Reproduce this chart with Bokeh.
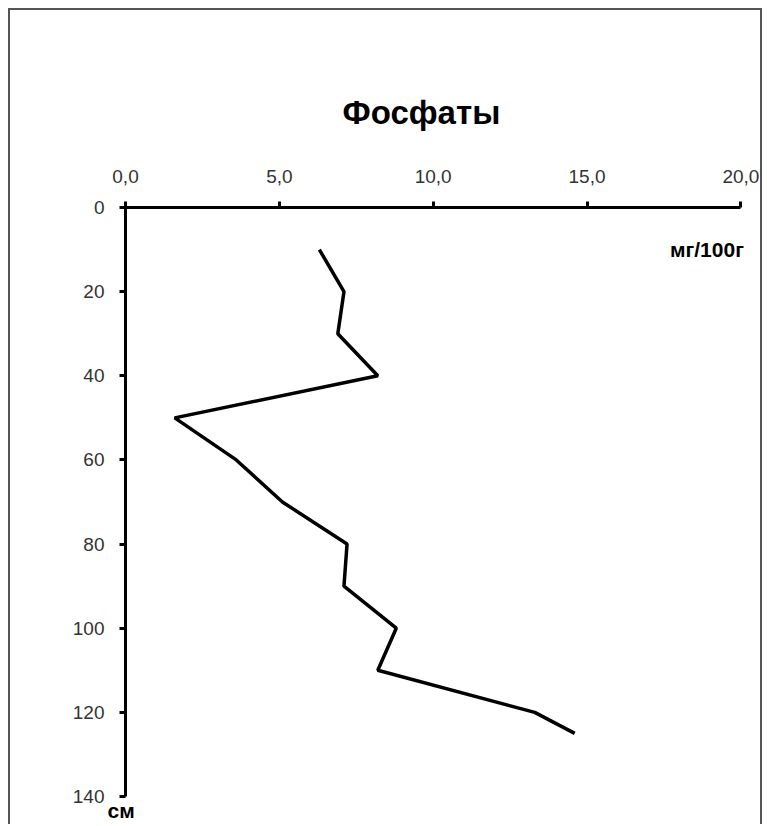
from bokeh.plotting import figure
from bokeh.models import Range1d, FixedTicker, Label, Title
from bokeh.embed import file_html
from bokeh.resources import INLINE

# data
depth_cm = [10, 20, 30, 40, 50, 60, 70, 80, 90, 100, 110, 120, 125]
phosphates = [6.3, 7.1, 6.9, 8.2, 1.6, 3.6, 5.1, 7.2, 7.1, 8.8, 8.2, 13.3, 14.6]

x_ticks = [0, 5, 10, 15, 20]
x_tick_labels = ["0,0", "5,0", "10,0", "15,0", "20,0"]
y_ticks = [0, 20, 40, 60, 80, 100, 120, 140]
y_tick_labels = ["0", "20", "40", "60", "80", "100", "120", "140"]

title_text = "Фосфаты"
x_unit = "мг/100г"
y_unit = "см"

FONT = "Liberation Sans"

p = figure(width=754, height=816, output_backend="svg", toolbar_location=None,
           x_axis_location="above",
           x_range=Range1d(0, 20.15), y_range=Range1d(140, 0),
           min_border_left=115, min_border_right=19,
           min_border_top=197, min_border_bottom=30)
p.styles = {"margin": "8px 0 0 8px",
            "border-top": "2px solid #555", "border-left": "2px solid #555",
            "border-right": "2px solid #555"}
p.background_fill_color = "white"
p.border_fill_color = "white"
p.outline_line_color = None
p.xgrid.visible = False
p.ygrid.visible = False

for ax, ticks, labels in ((p.xaxis[0], x_ticks, x_tick_labels), (p.yaxis[0], y_ticks, y_tick_labels)):
    ax.ticker = FixedTicker(ticks=ticks)
    ax.major_label_overrides = {t: l for t, l in zip(ticks, labels)}
    ax.axis_line_width = 3
    ax.axis_line_color = "black"
    ax.major_tick_line_width = 3
    ax.major_tick_line_color = "black"
    ax.major_tick_out = 6
    ax.major_tick_in = 0
    ax.minor_tick_line_color = None
    ax.major_label_text_font = FONT
    ax.major_label_text_font_size = "19px"
    ax.major_label_text_color = "#333333"

p.xaxis[0].bounds = (0, 20)
p.yaxis[0].bounds = (0, 140)
p.xaxis[0].major_label_standoff = 19
p.yaxis[0].major_label_standoff = 15

p.line(phosphates, depth_cm, line_width=3.5, line_color="black")

p.title.text = title_text
p.title.text_font = FONT
p.title.text_font_size = "33px"
p.title.text_font_style = "bold"
p.title.text_color = "black"
p.title.align = "left"
p.title.offset = 217
p.title.standoff = 72

p.add_layout(Label(x=20, y=10, text=x_unit, text_font=FONT, text_font_size="21px",
                   text_font_style="bold", text_align="right", text_baseline="middle",
                   x_offset=3, text_color="black"))

p.add_layout(Title(text=y_unit, align="left", offset=-18, standoff=0,
                   text_font=FONT, text_font_size="21px", text_font_style="bold",
                   text_color="black"), "below")

open("out.html", "w").write(file_html(p, INLINE))
